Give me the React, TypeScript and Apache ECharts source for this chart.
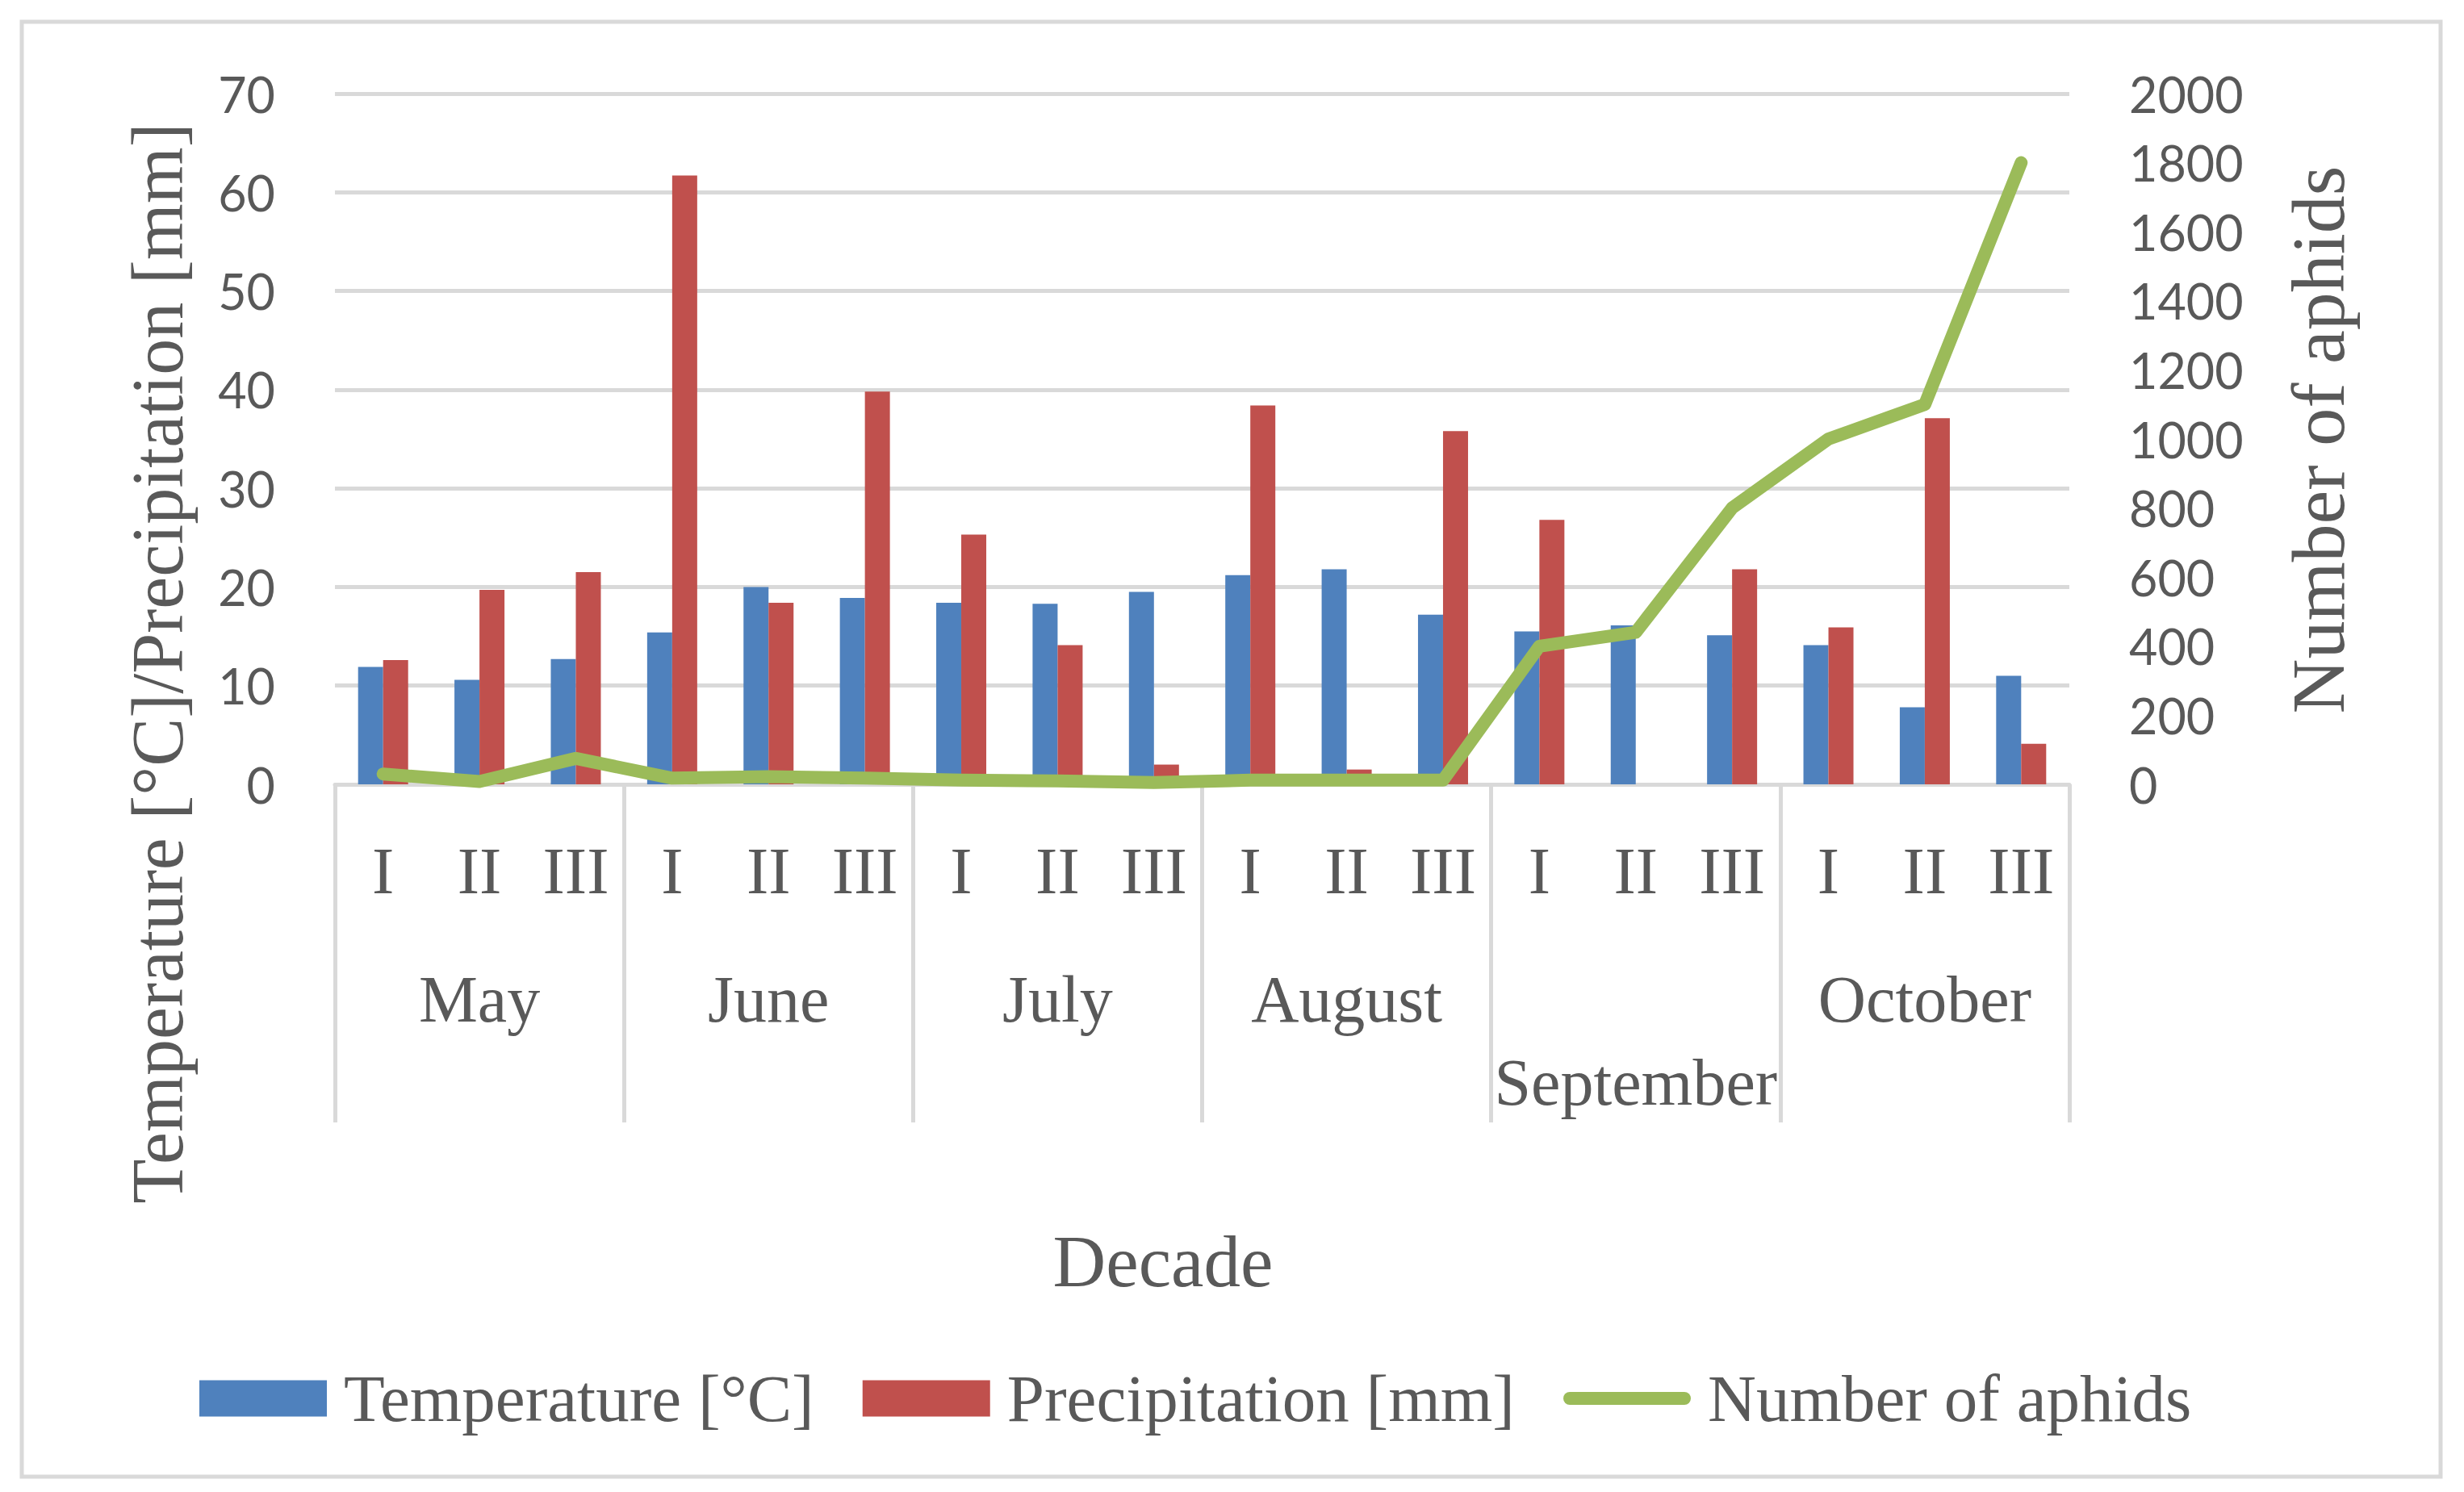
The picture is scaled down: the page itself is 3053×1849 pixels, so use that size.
import React, { useEffect, useRef } from 'react';
import * as echarts from 'echarts';

const months = ['May', 'June', 'July', 'August', 'September', 'October'];
const decades = ['I', 'II', 'III'];
const temperature = [11.9, 10.6, 12.7, 15.4, 20.0, 18.9, 18.4, 18.3, 19.5, 21.2, 21.8, 17.2, 15.5, 16.1, 15.1, 14.1, 7.8, 11.0];
const precipitation = [12.6, 19.7, 21.5, 61.7, 18.4, 39.8, 25.3, 14.1, 2.0, 38.4, 1.5, 35.8, 26.8, 0, 21.8, 15.9, 37.1, 4.1];
const aphids = [30, 8, 75, 18, 22, 18, 12, 10, 5, 12, 12, 12, 400, 440, 800, 1000, 1100, 1800];

const seriesNames = ['Temperature [°C]', 'Precipitation [mm]', 'Number of aphids'];
const leftTitle = 'Temperature [°C]/Precipitation [mm]';
const rightTitle = 'Number of aphids';
const xTitle = 'Decade';

const TEXT = '#595959';
const GRID = '#d9d9d9';
const SERIF = '"Liberation Serif", "DejaVu Serif", serif';
const SANS = 'Lato, "Liberation Sans", sans-serif';
const LINE_ICON = 'path://M8,0 L150,0 A8,8 0 0 1 150,16 L8,16 A8,8 0 0 1 8,0 Z';

export default function App() {
  const ref = useRef<HTMLDivElement>(null);
  useEffect(() => {
    document.body.style.margin = '0';
    const chart = echarts.init(ref.current!, null, { renderer: 'svg' });
    const categories = months.flatMap((m) => decades.map((d) => m + '|' + d));
    chart.setOption({
      animation: false,
      backgroundColor: '#ffffff',
      grid: { left: 415, right: 489, top: 116, bottom: 877, containLabel: false },
      legend: {
        left: 247,
        top: 1688,
        padding: 0,
        itemWidth: 158,
        itemHeight: 45,
        itemGap: 60,
        symbolKeepAspect: true,
        textStyle: { color: TEXT, fontSize: 83, fontFamily: SERIF, lineHeight: 90, padding: [0, 0, 0, 16] },
        data: [
          { name: seriesNames[0], icon: 'rect' },
          { name: seriesNames[1], icon: 'rect' },
          { name: seriesNames[2], icon: LINE_ICON, itemStyle: { color: '#9bbb59' } },
        ],
      },
      xAxis: [
        {
          type: 'category',
          data: categories,
          position: 'bottom',
          axisLine: { show: true, lineStyle: { color: GRID, width: 5 } },
          axisTick: { show: false },
          axisLabel: {
            interval: 0,
            color: TEXT,
            fontSize: 82,
            fontFamily: SERIF,
            margin: 66,
            lineHeight: 82,
            formatter: (v: string) => v.split('|')[1],
          },
        },
        {
          type: 'category',
          data: months,
          position: 'bottom',
          boundaryGap: true,
          axisLine: { show: false },
          axisTick: { show: true, length: 419, lineStyle: { color: GRID, width: 5 } },
          axisLabel: {
            interval: 0,
            color: TEXT,
            fontSize: 82,
            fontFamily: SERIF,
            margin: 215,
            lineHeight: 103,
            formatter: (v: string) => (v === 'September' ? '\n' + v : v),
          },
        },
      ],
      yAxis: [
        {
          type: 'value',
          min: 0,
          max: 70,
          interval: 10,
          axisLine: { show: false },
          axisTick: { show: false },
          splitLine: { show: true, lineStyle: { color: GRID, width: 5 } },
          axisLabel: { color: TEXT, fontSize: 61, fontFamily: SANS, margin: 74, formatter: (v: number) => String(v) },
        },
        {
          type: 'value',
          min: 0,
          max: 2000,
          interval: 200,
          position: 'right',
          axisLine: { show: false },
          axisTick: { show: false },
          splitLine: { show: false },
          axisLabel: { color: TEXT, fontSize: 61, fontFamily: SANS, margin: 74, formatter: (v: number) => String(v) },
        },
      ],
      series: [
        {
          name: seriesNames[0],
          type: 'bar',
          data: temperature,
          xAxisIndex: 0,
          yAxisIndex: 0,
          barWidth: 31,
          barGap: '0%',
          itemStyle: { color: '#4f81bd' },
        },
        {
          name: seriesNames[1],
          type: 'bar',
          data: precipitation,
          xAxisIndex: 0,
          yAxisIndex: 0,
          barWidth: 31,
          barGap: '0%',
          itemStyle: { color: '#c0504d' },
        },
        {
          name: seriesNames[2],
          type: 'line',
          data: aphids,
          xAxisIndex: 0,
          yAxisIndex: 1,
          symbol: 'none',
          z: 5,
          lineStyle: { color: '#9bbb59', width: 16, cap: 'round', join: 'round' },
          itemStyle: { color: '#9bbb59' },
        },
      ],
      graphic: [
        {
          type: 'rect',
          shape: { x: 27, y: 27, width: 2997, height: 1803 },
          style: { fill: 'none', stroke: GRID, lineWidth: 5 },
          z: -10,
          silent: true,
        },
        {
          type: 'text',
          x: 195,
          y: 822,
          rotation: Math.PI / 2,
          style: { text: leftTitle, fill: TEXT, font: '90px ' + SERIF, textAlign: 'center', textVerticalAlign: 'middle' },
        },
        {
          type: 'text',
          x: 2872,
          y: 545,
          rotation: Math.PI / 2,
          style: { text: rightTitle, fill: TEXT, font: '94px ' + SERIF, textAlign: 'center', textVerticalAlign: 'middle' },
        },
        {
          type: 'text',
          x: 1441,
          y: 1563,
          style: { text: xTitle, fill: TEXT, font: '91px ' + SERIF, textAlign: 'center', textVerticalAlign: 'middle' },
        },
      ],
    });
    return () => chart.dispose();
  }, []);
  return <div ref={ref} style={{ width: 3053, height: 1849 }} />;
}
